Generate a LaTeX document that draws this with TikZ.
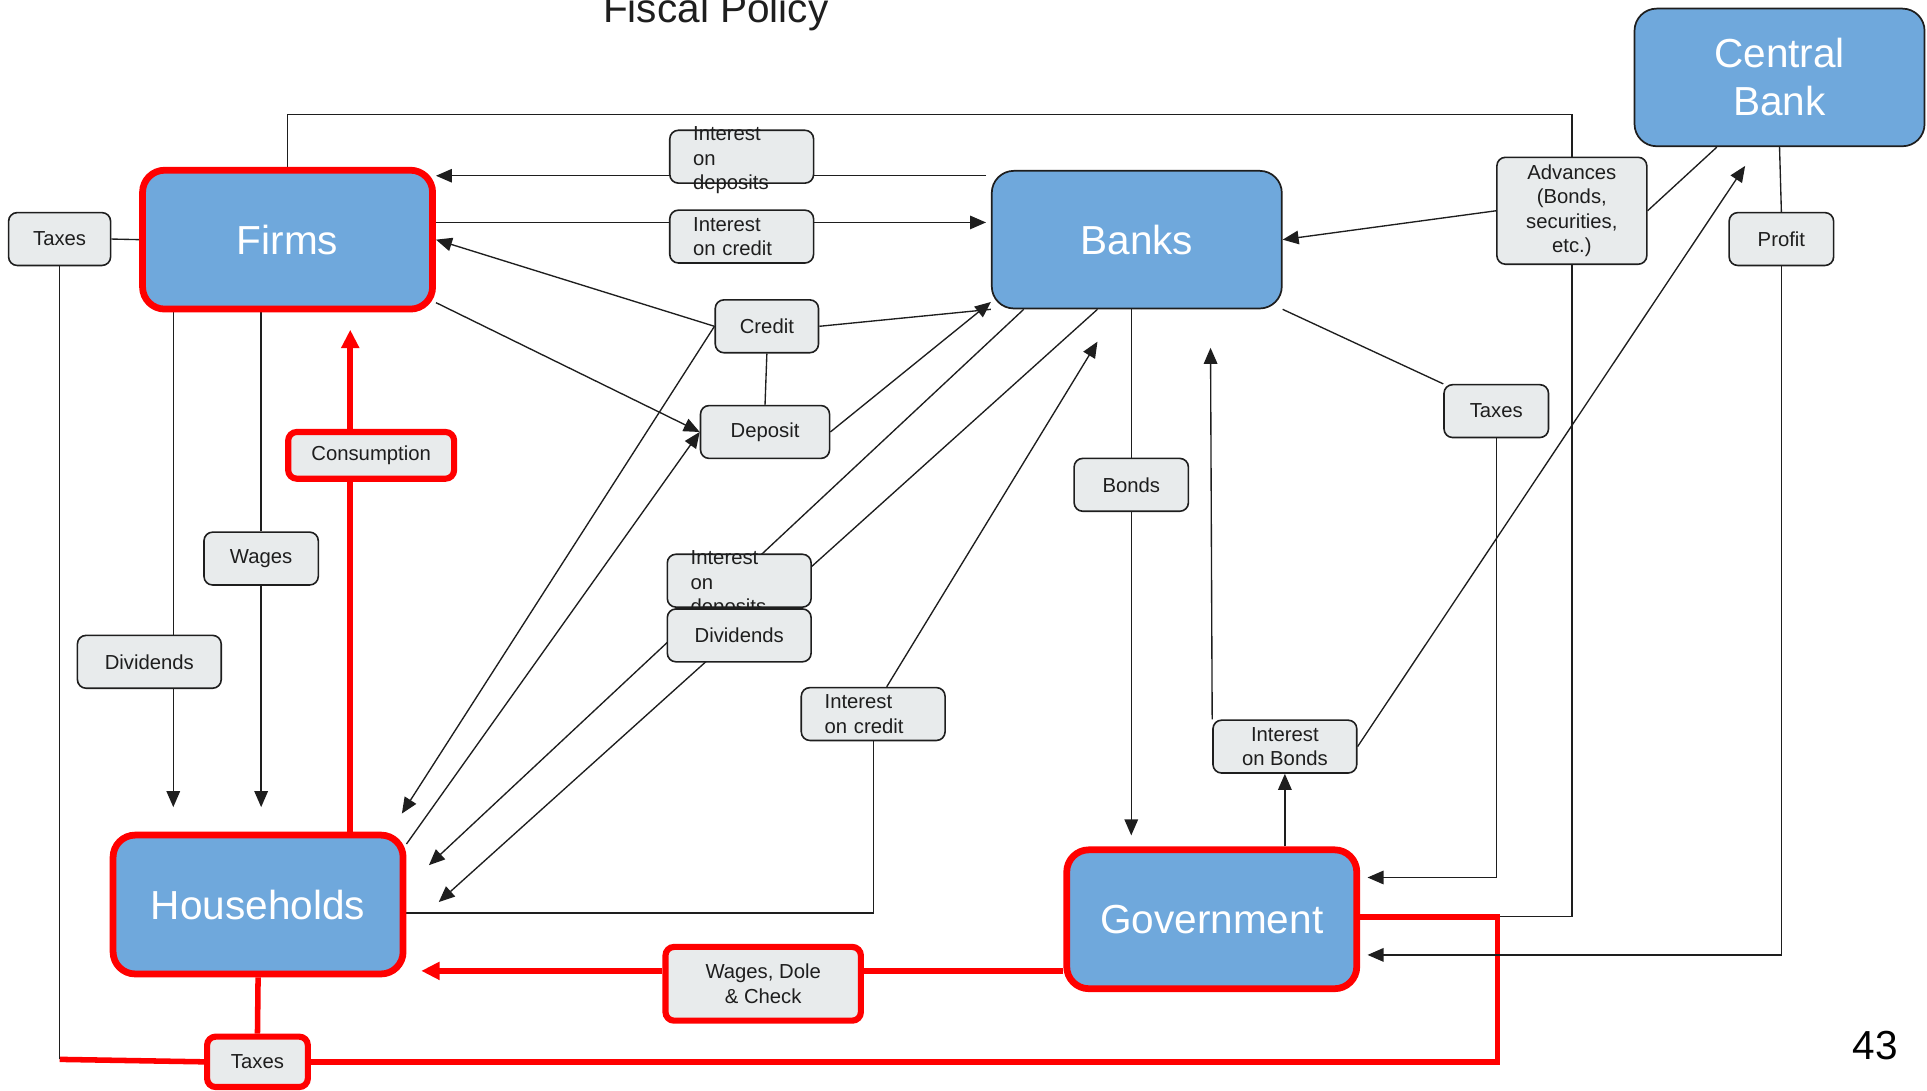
\documentclass[tikz,border=0pt]{standalone}
\usepackage{fontspec}
\setmainfont{Liberation Sans}
\usetikzlibrary{arrows.meta,backgrounds}
\definecolor{sectorblue}{HTML}{6FA8DC}
\definecolor{flowgrey}{HTML}{E8EBEC}
\definecolor{flowred}{HTML}{FF0000}
\definecolor{ink}{HTML}{1E1E1E}
\tikzset{
  sector/.style={draw=ink, line width=1.4pt, fill=sectorblue, rounded corners=18pt, minimum width=236pt, minimum height=112pt, inner sep=0pt, text=white, align=center, font=\fontsize{33}{39}\selectfont},
  redsector/.style={sector, draw=flowred, line width=5.5pt, minimum height=113pt},
  flow/.style={draw=ink, line width=1.3pt, fill=flowgrey, rounded corners=7pt, minimum height=43pt, inner sep=0pt, text=ink, align=center, font=\fontsize{16.5}{20}\selectfont},
  redflow/.style={flow, draw=flowred, line width=5pt},
  leftflow/.style={flow, minimum width=117pt, text width=79pt, align=left},
  flowtext/.style={inner sep=0pt, yshift=-3pt, text width=79pt, align=left, text=ink, font=\fontsize{16.5}{20}\selectfont},
  link/.style={draw=ink, line width=1.1pt},
  arr/.style={link, -{Triangle[length=13pt,width=11pt]}},
  redlink/.style={draw=flowred, line width=4.5pt},
  redarr/.style={redlink, -{Triangle[length=15pt,width=14pt]}}
}
\begin{document}
\begin{tikzpicture}[x=1pt,y=-1pt]
  \useasboundingbox (0,0) rectangle (1568,887);
  \node[font=\fontsize{33}{39}\selectfont, text=ink, anchor=base] (title) at (582.5,18.5) {Fiscal Policy};
  \node[font=\fontsize{33}{39}\selectfont, text=black, anchor=base] (slideno) at (1526,862) {43};

  \node[redsector] (firms) at (234,195) {Firms};
  \node[sector] (banks) at (925,195) {Banks};
  \node[sector] (cbank) at (1448,63) {Central\\Bank};
  \node[redsector] (hh) at (210,736) {Households};
  \node[redsector] (gov) at (986,748) {Government};

  \node[flow, minimum width=83pt] (taxf) at (48.5,194.5) {Taxes};
  \node[flow, minimum width=117pt] (intdepa) at (603.5,127.5) {};
  \node[flowtext] (intdepatext) at (intdepa) {Interest\\on\\deposits};
  \node[leftflow] (intcra) at (603.5,192.5) {Interest\\on credit};
  \node[flow, minimum width=84pt] (credit) at (624,265.5) {Credit};
  \node[flow, minimum width=105pt] (deposit) at (622.5,351.5) {Deposit};
  \node[redflow, minimum width=135pt, minimum height=38pt] (cons) at (302,370.5) {Consumption};
  \node[flow, minimum width=93pt] (wages) at (212.5,454.5) {Wages};
  \node[flow, minimum width=117pt] (divf) at (121.5,538.5) {Dividends};
  \node[flow, minimum width=117pt] (intdepb) at (601.5,472.5) {};
  \node[flowtext] (intdepbtext) at (intdepb) {Interest\\on\\deposits};
  \node[flow, minimum width=117pt] (divb) at (601.5,517) {Dividends};
  \node[leftflow] (intcrb) at (710.5,581) {Interest\\on credit};
  \node[flow, minimum width=93pt] (bonds) at (920.5,394.5) {Bonds};
  \node[flow, minimum width=85pt] (taxb) at (1217.5,334.5) {Taxes};
  \node[flow, minimum width=122pt, minimum height=87pt] (adv) at (1279,171.5) {Advances\\(Bonds,\\securities,\\etc.)};
  \node[flow, minimum width=85pt] (profit) at (1449.5,194.5) {Profit};
  \node[flow, minimum width=117pt] (intbonds) at (1045.5,607.5) {Interest\\on Bonds};
  \node[redflow, minimum width=159pt, minimum height=60pt] (wdc) at (621,800.5) {Wages, Dole\\\& Check};
  \node[redflow, minimum width=82pt, minimum height=41pt] (taxh) at (209.5,864) {Taxes};

  \coordinate (dvx) at (141,0);
  \coordinate (cx) at (285,0);
  \coordinate (loopy) at (0,93);
  \coordinate (ydep) at (0,143);
  \coordinate (ycr) at (0,181);
  \coordinate (jct) at (1218.5,746);
  \coordinate (ytax) at (0,714);
  \coordinate (yprof) at (0,777);
  \coordinate (wdy) at (0,790);
  \coordinate (cornerl) at (48.5,862);
  \coordinate (hhcr) at (327,662);
  \coordinate (hhint) at (349,704);
  \coordinate (hhdiv) at (357,734);
  \coordinate (bkic) at (893,278);
  \coordinate (bkib) at (985,283);
  \coordinate (cbib) at (1420,135);

  \begin{scope}[on background layer]
    \draw[link] (firms.north) |- (loopy -| adv.north) -- (adv.north);
    \draw[link] (adv.south) |- (jct);
    \draw[redlink] (gov.east |- jct) -- (jct) |- (taxh.east);
    \draw[redlink] (taxh.west) -- (cornerl);
    \draw[link] (taxf.south) -- (cornerl);
    \draw[link] (taxf.east) -- (firms.west);
    \draw[redlink] (hh.south) -- (taxh.north);

    \draw[link] (banks.south east) -- (taxb.north west);
    \draw[arr, shorten >=6pt] (taxb.south) |- (gov.east |- ytax);
    \draw[link] (cbank.south) -- (profit.north);
    \draw[arr, shorten >=6pt] (profit.south) |- (gov.east |- yprof);
    \draw[arr] (adv.west) -- (banks.east);
    \draw[link] ([xshift=-51pt]cbank.south) -- (adv.east);

    \draw[arr] (intbonds.south |- gov.north) -- (intbonds.south);
    \draw[arr] (intbonds.north west) -- (bkib);
    \draw[arr] (intbonds.east) -- (cbib);
    \draw[link] (bonds.north |- banks.south) -- (bonds.north);
    \draw[arr, shorten >=9pt] (bonds.south) -- (bonds.south |- gov.north);

    \draw[arr, shorten <=4pt] (banks.west |- ydep) -- (firms.east |- ydep);
    \draw[arr, shorten >=4pt] (firms.east |- ycr) -- (banks.west |- ycr);
    \draw[link] (banks.south west) -- (credit.east);
    \draw[arr] (credit.west) -- (firms.east);
    \draw[arr] (credit.west) -- (hhcr);
    \draw[link] (credit.south) -- (deposit.north);
    \draw[arr] ([yshift=8pt]firms.south east) -- (deposit.west);
    \draw[arr] ([yshift=-10pt]hh.north east) -- (deposit.west);
    \draw[arr] (deposit.east) -- ([yshift=6pt]banks.south west);
    \draw[arr] ([xshift=-92pt]banks.south) -- (hhint);
    \draw[arr] ([xshift=-32pt]banks.south) -- (hhdiv);
    \draw[link] ([yshift=-7pt]hh.east) -| (intcrb.south);
    \draw[arr] ([xshift=11pt]intcrb.north) -- (bkic);

    \draw[link] (dvx |- firms.south) -- (dvx |- divf.north);
    \draw[arr, shorten >=20pt] (dvx |- divf.south) -- (dvx |- hh.north);
    \draw[link] (wages.north |- firms.south) -- (wages.north);
    \draw[arr, shorten >=20pt] (wages.south) -- (wages.south |- hh.north);

    \draw[redlink] (cx |- hh.north) -- (cx |- cons.south);
    \draw[redarr, shorten >=14pt] (cx |- cons.north) -- (cx |- firms.south);
    \draw[redlink] (gov.west |- wdy) -- (wdc.east |- wdy);
    \draw[redarr, shorten >=12pt] (wdc.west |- wdy) -- (hh.east |- wdy);
  \end{scope}
\end{tikzpicture}
\end{document}
